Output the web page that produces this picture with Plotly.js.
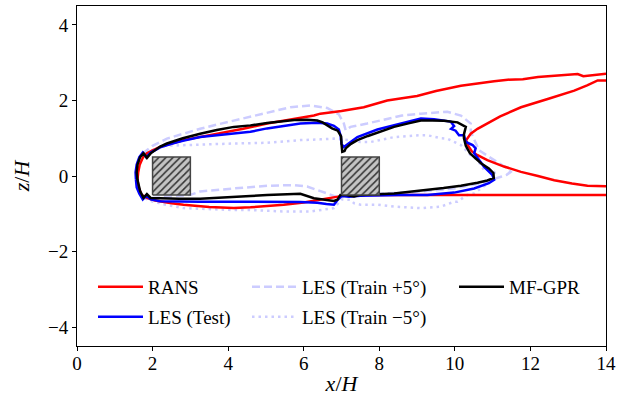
<!DOCTYPE html>
<html>
<head>
<meta charset="utf-8">
<script src="https://cdn.plot.ly/plotly-3.0.1.min.js"></script>
<style>html,body{margin:0;padding:0;background:#fff;}#plot{width:623px;height:404px;}</style>
</head>
<body>
<div id="plot"></div>
<script>
// RANS contour (outer branch + inner branch separated by null)
const ransX = [14,13.9,13.6,13.4,13.25,12.9,12.63,12.2,11.8,11.4,11.04,10.6,10.16,9.5,9.0,8.6,8.21,7.59,7.0,6.44,6.27,5.5,5.03,4.4,3.7,3.2,2.82,2.5,2.2,2.0,1.85,1.75,1.66,1.62,1.6,1.63,1.71,1.85,2.07,2.5,2.82,3.5,4.15,4.59,5.0,5.47,6.0,6.36,6.8,7.06,7.5,8,10,12,14,
  null,14,13.78,13.5,13.16,12.5,11.75,11.2,10.86,10.6,10.42,10.3,10.35,10.45,10.6,10.86,11.3,11.75,12.2,12.63,13.1,13.51,14];
const ransZ = [2.71,2.7,2.68,2.64,2.7,2.68,2.66,2.62,2.56,2.55,2.51,2.44,2.39,2.25,2.12,2.06,2.0,1.82,1.72,1.65,1.6,1.47,1.39,1.25,1.12,1.02,0.95,0.86,0.77,0.68,0.6,0.5,0.3,0.1,-0.1,-0.3,-0.5,-0.58,-0.65,-0.72,-0.76,-0.82,-0.85,-0.83,-0.8,-0.76,-0.7,-0.64,-0.58,-0.52,-0.5,-0.5,-0.5,-0.5,-0.5,
  null,2.53,2.53,2.4,2.26,2.05,1.82,1.58,1.39,1.25,1.12,0.95,0.8,0.65,0.55,0.42,0.25,0.11,0.0,-0.11,-0.2,-0.26,-0.27];

// LES (Test)
const lesTestX = [1.56,1.55,1.58,1.65,1.74,1.83,1.95,2.2,2.5,2.8,3.26,3.7,4.15,4.59,5.03,5.47,5.91,6.36,6.62,6.8,6.93,6.98,7.0,7.06,7.2,7.42,7.95,8.39,8.8,9.1,9.45,9.63,9.89,9.98,9.9,10.02,10.11,10.24,10.29,10.47,10.55,10.51,10.65,10.77,10.99,11.04,10.9,10.51,9.98,9.27,8.5,7.95,7.5,7.2,7.0,6.9,6.8,6.6,6.36,5.9,5.03,4.15,3.26,2.6,2.2,1.95,1.83,1.74,1.65,1.58,1.56];
const lesTestZ = [-0.1,0.1,0.3,0.5,0.62,0.5,0.62,0.76,0.85,0.93,1.03,1.08,1.12,1.17,1.26,1.33,1.39,1.41,1.39,1.33,1.23,1.05,0.85,0.77,0.88,1.03,1.23,1.34,1.45,1.52,1.5,1.47,1.44,1.32,1.25,1.2,1.08,1.08,0.9,0.82,0.73,0.6,0.42,0.25,0.03,-0.1,-0.19,-0.33,-0.44,-0.5,-0.5,-0.5,-0.52,-0.55,-0.53,-0.63,-0.76,-0.74,-0.71,-0.69,-0.68,-0.68,-0.68,-0.68,-0.67,-0.62,-0.52,-0.62,-0.47,-0.3,-0.1];

// LES (Train +5 deg)
const lesPlusX = [1.58,1.58,1.68,1.8,2.0,2.38,2.8,3.26,3.7,4.15,4.59,5.12,5.65,6.18,6.62,6.93,7.06,7.11,7.24,7.68,8.21,8.6,9.1,9.5,9.8,10.16,10.42,10.42,10.51,10.64,11.04,11.39,11.48,11.37,11.22,10.69,9.98,9.1,8.21,7.5,7.1,6.97,6.62,6.09,5.74,5.03,4.15,3.26,3.0,2.5,2.1,1.8,1.62,1.58];
const lesPlusZ = [0.0,0.3,0.55,0.65,0.8,0.99,1.12,1.25,1.36,1.47,1.56,1.69,1.82,1.87,1.8,1.63,1.4,1.21,1.3,1.39,1.52,1.6,1.65,1.69,1.7,1.6,1.39,1.17,0.95,0.68,0.42,0.2,0.11,0.03,-0.02,-0.19,-0.33,-0.41,-0.46,-0.5,-0.5,-0.59,-0.46,-0.28,-0.24,-0.26,-0.33,-0.41,-0.5,-0.54,-0.56,-0.6,-0.35,0.0];

// LES (Train -5 deg)
const lesMinusX = [1.6,1.62,1.7,1.9,2.33,2.82,3.5,4.15,5.03,5.91,6.44,6.8,7.2,7.5,7.77,8.39,9.1,9.27,9.63,9.8,10.07,10.16,10.42,10.6,10.77,11.04,11.1,10.8,10.51,10.33,10.07,9.98,9.63,9.1,8.39,7.95,7.5,7.33,7.24,7.0,6.8,6.44,6.18,5.47,4.59,4.15,3.5,2.82,2.3,1.9,1.7,1.6,1.6];
const lesMinusZ = [0.0,0.3,0.55,0.65,0.8,0.82,0.84,0.86,0.88,0.95,0.97,0.99,0.95,0.9,0.9,1.03,1.08,1.08,1.0,0.99,0.86,0.82,0.55,0.42,0.16,0.11,0.0,-0.25,-0.46,-0.5,-0.68,-0.68,-0.81,-0.85,-0.81,-0.76,-0.76,-0.72,-0.63,-0.62,-0.85,-0.9,-0.94,-0.94,-0.9,-0.9,-0.88,-0.85,-0.75,-0.65,-0.5,-0.25,0.0];

// MF-GPR
const gprX = [1.6,1.58,1.6,1.67,1.76,1.85,1.95,2.2,2.38,2.8,3.26,3.7,4.15,4.59,5.03,5.47,5.75,6.09,6.36,6.5,6.62,6.75,6.9,6.99,7.0,7.02,7.08,7.11,7.25,7.42,7.7,7.95,8.39,8.8,9.1,9.4,9.71,10.07,10.29,10.24,10.24,10.29,10.4,10.51,10.7,10.9,11.02,11.03,10.86,10.6,10.16,9.7,9.27,8.8,8.39,7.95,7.5,7.33,7.1,6.97,6.89,6.8,6.5,6.27,5.91,5.47,5.03,4.59,4.15,3.7,3.26,2.7,2.2,1.95,1.85,1.76,1.67,1.6];
const gprZ = [-0.1,0.1,0.3,0.5,0.6,0.48,0.6,0.78,0.86,1.0,1.12,1.22,1.3,1.34,1.4,1.44,1.48,1.49,1.47,1.42,1.34,1.26,1.2,1.05,0.85,0.64,0.66,0.73,0.85,0.95,1.06,1.14,1.3,1.4,1.47,1.47,1.46,1.42,1.3,1.1,1.0,0.8,0.6,0.5,0.33,0.2,0.08,-0.05,-0.12,-0.18,-0.26,-0.32,-0.37,-0.42,-0.46,-0.48,-0.5,-0.54,-0.5,-0.5,-0.63,-0.66,-0.62,-0.59,-0.47,-0.48,-0.5,-0.53,-0.55,-0.58,-0.6,-0.6,-0.59,-0.58,-0.48,-0.58,-0.4,-0.1];

// Square cylinders
const blockX = [2,3,3,2,2,null,7,8,8,7,7];
const blockZ = [-0.5,-0.5,0.5,0.5,-0.5,null,-0.5,-0.5,0.5,0.5,-0.5];

const FONT = 'Liberation Serif, DejaVu Serif, serif';

const traces = [
  {x: lesPlusX, y: lesPlusZ, mode: 'lines', name: 'LES (Train +5°)', line: {color: '#ccccff', width: 2.5, dash: '8px,4px'}, legend: 'legend3'},
  {x: lesMinusX, y: lesMinusZ, mode: 'lines', name: 'LES (Train −5°)', line: {color: '#ccccff', width: 2.5, dash: '2.5px,4px'}, legend: 'legend4'},
  {x: ransX, y: ransZ, mode: 'lines', name: 'RANS', line: {color: '#ff0000', width: 2.5}, connectgaps: false, legend: 'legend'},
  {x: lesTestX, y: lesTestZ, mode: 'lines', name: 'LES (Test)', line: {color: '#0000ff', width: 2.5}, legend: 'legend2'},
  {x: gprX, y: gprZ, mode: 'lines', name: 'MF-GPR', line: {color: '#000000', width: 2.5}, legend: 'legend5'},
  {x: blockX, y: blockZ, mode: 'lines', fill: 'toself', showlegend: false, hoverinfo: 'skip',
   line: {color: '#444444', width: 1.5},
   fillcolor: '#c4c4c4',
   fillpattern: {shape: '/', fgcolor: '#333333', bgcolor: '#c4c4c4', size: 5, solidity: 0.3}}
];

function lg(xpx, ypx) {
  return {x: (xpx - 77) / 529, y: (346 - ypx) / 340, xanchor: 'left', yanchor: 'middle',
          itemwidth: 45,
          bgcolor: 'rgba(0,0,0,0)', borderwidth: 0, font: {family: FONT, size: 19, color: '#000'}};
}

const layout = {
  width: 623, height: 404,
  margin: {l: 77, r: 17, t: 6, b: 58},
  paper_bgcolor: '#fff', plot_bgcolor: '#fff',
  font: {family: FONT, size: 19, color: '#000'},
  xaxis: {range: [0, 14], dtick: 2, tick0: 0, ticks: 'outside', ticklen: 4, tickwidth: 1, tickcolor: '#000',
          ticklabelstandoff: -4,
          showline: true, mirror: true, linecolor: '#000', linewidth: 1, showgrid: false, zeroline: false,
          tickfont: {family: FONT, size: 19}, title: {text: '<i>x</i>/<i>H</i>', font: {family: FONT, size: 22}, standoff: 2}},
  yaxis: {range: [-4.5, 4.5], dtick: 2, tick0: 0, ticks: 'outside', ticklen: 4, tickwidth: 1, tickcolor: '#000',
          showline: true, mirror: true, linecolor: '#000', linewidth: 1, showgrid: false, zeroline: false,
          tickfont: {family: FONT, size: 19}, title: {text: '<i>z</i>/<i>H</i>', font: {family: FONT, size: 22}, standoff: 12}},
  showlegend: true,
  legend: lg(93, 287),
  legend2: lg(93, 317),
  legend3: lg(247, 287),
  legend4: lg(247, 317),
  legend5: lg(454, 287)
};

Plotly.newPlot('plot', traces, layout, {displayModeBar: false, staticPlot: true});
</script>
</body>
</html>
